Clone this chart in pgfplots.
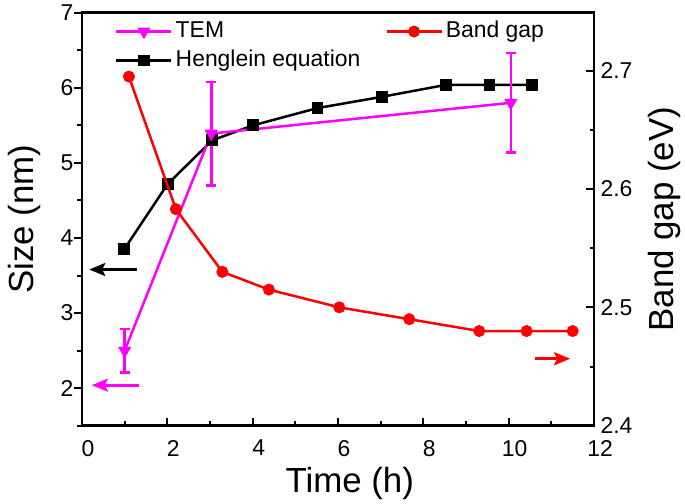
\documentclass[border=0pt]{standalone}
\usepackage{fontspec}
\setmainfont{Liberation Sans}
\usepackage{pgfplots}
\pgfplotsset{compat=1.18}
\usetikzlibrary{arrows.meta}
\definecolor{mag}{RGB}{255,0,255}
\definecolor{rd}{RGB}{255,0,0}
\begin{document}
\begin{tikzpicture}
\pgfplotsset{
  base/.style={
    scale only axis, width=512bp, height=413bp,
    xmin=0, xmax=12,
    /pgf/number format/assume math mode=true,
    tick label style={font=\fontsize{23}{27}\selectfont},
    label style={font=\fontsize{35}{40}\selectfont},
    axis line style={line width=2.5bp, -},
    major tick length=8bp, minor tick length=4.5bp,
    every tick/.style={line width=2bp, black},
    legend style={draw=none, fill=none, inner sep=0pt, font=\fontsize{23}{27}\selectfont, row sep=5bp,
      nodes={text height=17bp, text depth=5bp, inner ysep=1bp, inner xsep=3bp}},
    legend cell align=left,
    legend image code/.code={\draw[mark repeat=2, mark phase=2, ##1] plot coordinates {(0bp,0bp) (27.5bp,0bp) (55bp,0bp)};},
  }
}
\begin{axis}[base, name=ax,
  ymin=1.5, ymax=7,
  xtick={0,2,...,12}, minor xtick={1,3,...,11},
  ytick={2,...,7}, minor ytick={1.5,2.5,...,6.5},
  xtick pos=left, ytick pos=left,
  xtick align=inside, ytick align=outside,
  xticklabel style={yshift=-11bp, xshift=6bp},
  yticklabel style={xshift=3bp},
  xlabel={Time (h)}, ylabel={Size (nm)},
  xlabel style={at={(axis description cs:0.523,-0.141)}, anchor=center},
  ylabel style={at={(axis description cs:-0.113,0.5)}, anchor=center},
  legend style={at={(axis description cs:0.0645,0.984)}, anchor=north west},
  reverse legend,
]
\addplot[black, line width=2.5bp, mark=square*, mark size=4.7bp, mark options={solid}]
  coordinates {(0.99,3.85)(2.01,4.72)(3.05,5.3)(4.01,5.5)(5.52,5.73)(7.03,5.88)(8.54,6.04)(9.55,6.04)(10.55,6.04)};
\addlegendentry{Henglein equation}
\addplot[mag, line width=2.5bp, mark=triangle*, mark size=5.2bp, mark options={solid, rotate=180},
  error bars/.cd, y dir=both, y explicit,
  error bar style={line width=2.5bp, mag},
  error mark options={mag, line width=2.5bp, mark size=5bp, rotate=90}]
  coordinates {(1,2.5) +- (0,0.29) (3.03,5.39) +- (0,0.69) (10.05,5.8) +- (0,0.665)};
\addlegendentry{TEM}
\draw[black, line width=2.7bp, -{Stealth[length=16bp, width=13bp, inset=3bp]}] (axis cs:1.28,3.58) -- (axis cs:0.17,3.58);
\draw[mag, line width=2.7bp, -{Stealth[length=16bp, width=13bp, inset=3bp]}] (axis cs:1.34,2.04) -- (axis cs:0.23,2.04);
\end{axis}
\begin{axis}[base,
  hide x axis,
  ymin=2.4, ymax=2.749,
  ytick={2.4,2.5,2.6,2.7}, minor ytick={2.45,2.55,2.65},
  ytick pos=right, yticklabel pos=right, ytick align=inside,
  yticklabel style={xshift=3bp, /pgf/number format/.cd, fixed, fixed zerofill, precision=1},
  ylabel={Band gap (eV)},
  ylabel style={at={(axis description cs:1.137,0.5)}, anchor=center},
  legend style={at={(axis description cs:0.592,0.984)}, anchor=north west},
]
\addplot[rd, line width=2.5bp, mark=*, mark size=4.7bp, mark options={solid}]
  coordinates {(1.1,2.695)(2.2,2.583)(3.29,2.530)(4.38,2.515)(6.03,2.5)(7.67,2.49)(9.31,2.48)(10.42,2.48)(11.5,2.48)};
\addlegendentry{Band gap}
\draw[rd, line width=2.7bp, -{Stealth[length=16bp, width=13bp, inset=3bp]}] (axis cs:10.62,2.4566) -- (axis cs:11.44,2.4566);
\end{axis}
\path ([shift={(-82bp,-77.3bp)}]ax.south west) rectangle ([shift={(91bp,12.7bp)}]ax.north east);
\end{tikzpicture}
\end{document}
